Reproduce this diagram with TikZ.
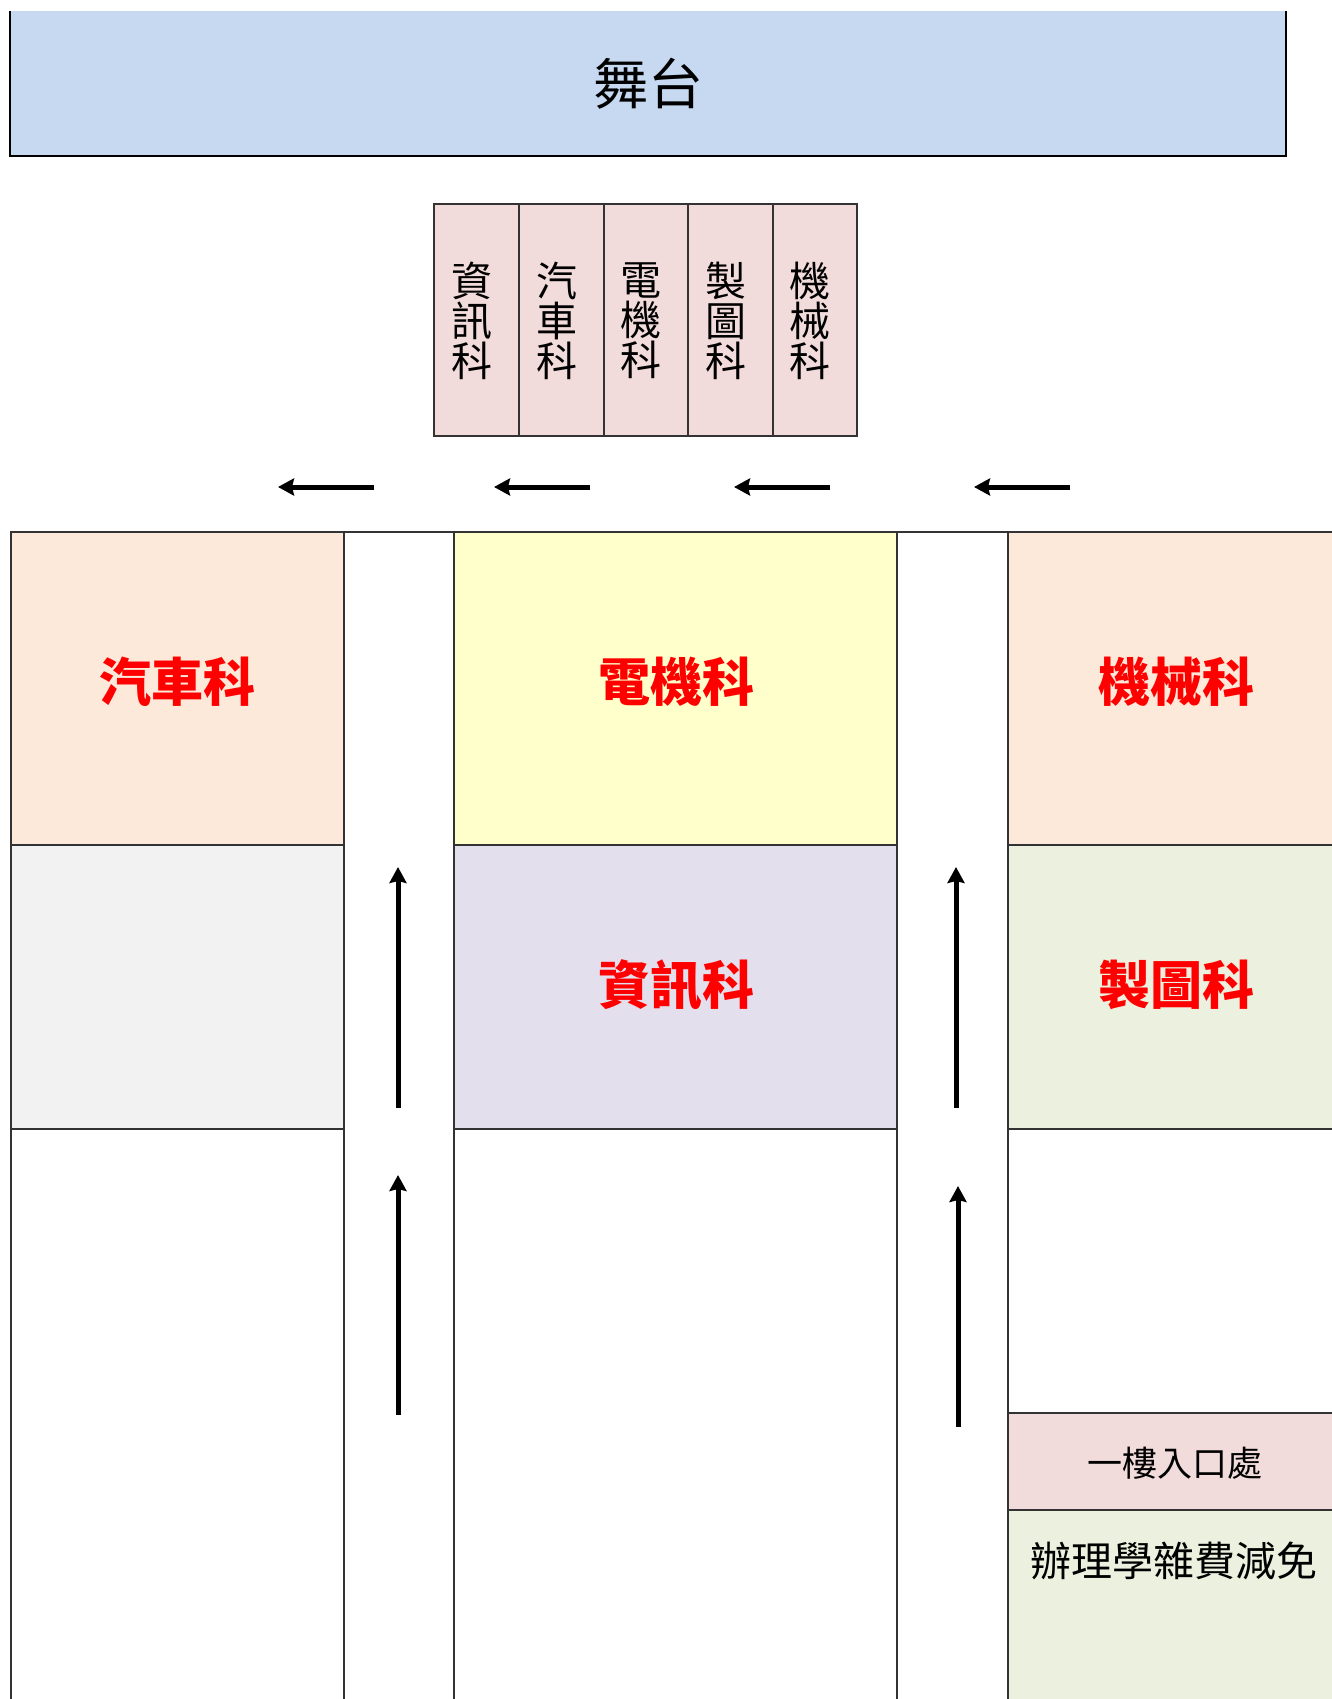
\documentclass[tikz,border=0pt]{standalone}
\usepackage{fontspec}
\newfontfamily\cjk{Noto Sans CJK TC}
\usetikzlibrary{arrows.meta}
\definecolor{stagefill}{HTML}{C6D9F1}
\definecolor{pinkfill}{HTML}{F2DCDB}
\definecolor{peachfill}{HTML}{FDE9D9}
\definecolor{yellowfill}{HTML}{FFFFCC}
\definecolor{lavfill}{HTML}{E4DFEC}
\definecolor{greenfill}{HTML}{EBF1DE}
\definecolor{grayfill}{HTML}{F2F2F2}
\definecolor{gridline}{HTML}{333333}
\tikzset{
  cellline/.style={draw=gridline, line width=1.3pt},
  redlabel/.style={text=red, font=\cjk\bfseries\fontsize{52}{52}\selectfont, inner sep=0pt},
  vlabel/.style={font=\cjk\fontsize{41}{40}\selectfont, align=center, inner sep=0pt},
  plainlabel/.style={font=\cjk\fontsize{35}{35}\selectfont, inner sep=0pt},
  flowarrow/.style={line width=5pt, -{Stealth[length=16pt,width=17pt,inset=2pt]}},
}
\begin{document}
\begin{tikzpicture}[x=1pt,y=-1pt]
\clip (0,0) rectangle (1332,1699);
\fill[white] (0,0) rectangle (1332,1699);
% stage
\fill[stagefill] (10,11) rectangle (1286,156);
\draw[line width=1.8pt] (10,11) -- (10,156) -- (1286,156) -- (1286,11);
\node[font=\cjk\fontsize{55}{55}\selectfont, inner sep=0pt] (stage) at (648,84) {舞台};
% small table
\foreach \i/\xa/\xb/\t in {1/434/519/資\\訊\\科, 2/519/604/汽\\車\\科, 3/604/688/電\\機\\科, 4/688/773/製\\圖\\科, 5/773/857/機\\械\\科}{
  \fill[pinkfill] (\xa,204) rectangle (\xb,436);
  \draw[cellline] (\xa,204) rectangle (\xb,436);
  \node[vlabel] (v\i) at ({(\xa+\xb)/2-5},321) {\t};
}
% horizontal arrows
\coordinate (h1s) at (374,487); \coordinate (h1e) at (278,487);
\coordinate (h2s) at (590,487); \coordinate (h2e) at (494,487);
\coordinate (h3s) at (830,487); \coordinate (h3e) at (734,487);
\coordinate (h4s) at (1070,487); \coordinate (h4e) at (974,487);
\foreach \k in {1,2,3,4} \draw[flowarrow] (h\k s) -- (h\k e);
% left column
\fill[peachfill] (11,532) rectangle (344,845);
\fill[grayfill] (11,845) rectangle (344,1129);
\draw[cellline] (11,532) rectangle (344,845);
\draw[cellline] (11,845) rectangle (344,1129);
\draw[cellline] (11,1129) rectangle (344,1720);
% middle column
\fill[yellowfill] (454,532) rectangle (897,845);
\fill[lavfill] (454,845) rectangle (897,1129);
\draw[cellline] (454,532) rectangle (897,845);
\draw[cellline] (454,845) rectangle (897,1129);
\draw[cellline] (454,1129) rectangle (897,1720);
% right column
\fill[peachfill] (1008,532) rectangle (1341,845);
\fill[greenfill] (1008,845) rectangle (1341,1129);
\fill[pinkfill] (1008,1413) rectangle (1341,1510);
\fill[greenfill] (1008,1510) rectangle (1341,1720);
\draw[cellline] (1008,532) rectangle (1341,845);
\draw[cellline] (1008,845) rectangle (1341,1129);
\draw[cellline] (1008,1129) rectangle (1341,1413);
\draw[cellline] (1008,1413) rectangle (1341,1510);
\draw[cellline] (1008,1510) rectangle (1341,1720);
% corridor tops
\draw[cellline] (344,532) -- (454,532);
\draw[cellline] (897,532) -- (1008,532);
% labels
\node[redlabel] (car) at (177,682) {汽車科};
\node[redlabel] (elec) at (676,682) {電機科};
\node[redlabel] (mech) at (1176,682) {機械科};
\node[redlabel] (info) at (676,985) {資訊科};
\node[redlabel] (draft) at (1176,985) {製圖科};
\node[plainlabel] (entry) at (1175,1463) {一樓入口處};
\node[font=\cjk\fontsize{41}{41}\selectfont, inner sep=0pt] (fee) at (1174,1561) {辦理學雜費減免};
% vertical arrows
\coordinate (v1s) at (398,1108); \coordinate (v1e) at (398,867);
\coordinate (v2s) at (398,1415); \coordinate (v2e) at (398,1175);
\coordinate (v3s) at (956,1108); \coordinate (v3e) at (956,867);
\coordinate (v4s) at (958,1427); \coordinate (v4e) at (958,1186);
\foreach \k in {1,2,3,4} \draw[flowarrow] (v\k s) -- (v\k e);
\end{tikzpicture}
\end{document}
